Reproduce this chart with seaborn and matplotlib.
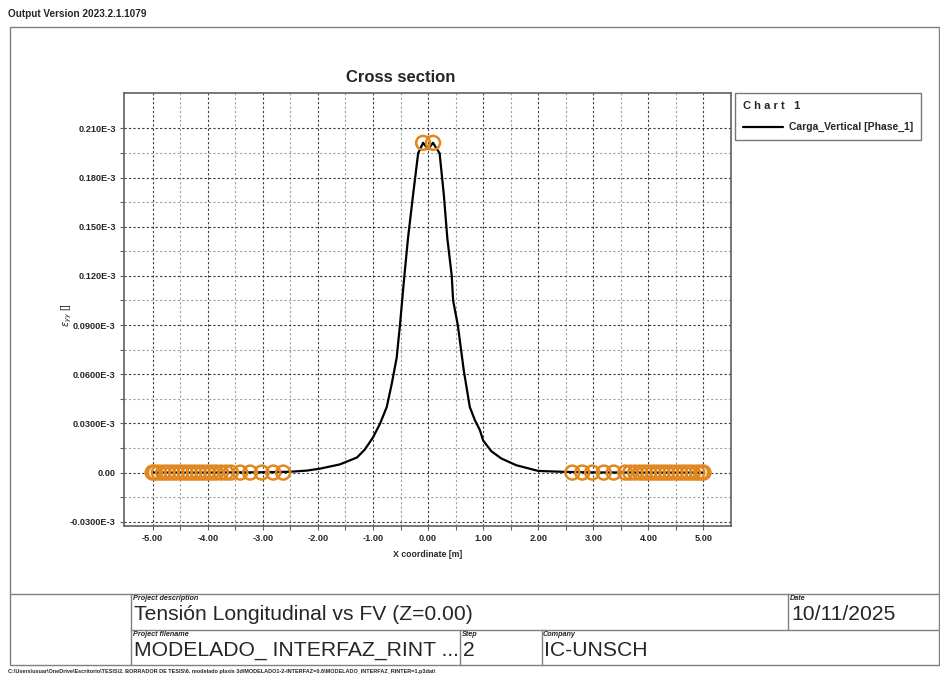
import numpy as np
import pandas as pd
import matplotlib
matplotlib.use("Agg")
import matplotlib.pyplot as plt
from matplotlib.patches import Rectangle
import seaborn as sns

# ---- data: strain along the cross section (values in 1E-3) ----
x_coord = [-5.00, -4.00, -3.00, -2.50, -2.20, -1.96, -1.60, -1.29, -1.15, -1.00,
           -0.87, -0.75, -0.66, -0.57, -0.51, -0.43, -0.364, -0.27, -0.18, -0.09,
           0.00, 0.09, 0.21, 0.285, 0.35, 0.43, 0.455, 0.54, 0.65, 0.758,
           0.85, 0.94, 1.00, 1.15, 1.33, 1.60, 1.84, 2.00, 2.50, 3.00, 4.00, 5.00]
strain_yy = [0.0, 0.0, 0.0002, 0.0005, 0.0012, 0.0024, 0.0050, 0.0092, 0.0140, 0.0214,
             0.0300, 0.0400, 0.0540, 0.0700, 0.0900, 0.1200, 0.1430, 0.1700, 0.1948, 0.2012,
             0.1975, 0.2012, 0.1948, 0.1700, 0.1430, 0.1200, 0.1050, 0.0900, 0.0620, 0.0400,
             0.0320, 0.0260, 0.0196, 0.0130, 0.0086, 0.0045, 0.0024, 0.0010, 0.0004, 0.0001, 0.0, 0.0]

# selected nodes (marked with circles)
node_x = [-5.00, -4.96, -4.89, -4.81, -4.73, -4.65, -4.57, -4.49, -4.41, -4.33,
          -4.25, -4.17, -4.09, -4.01, -3.93, -3.85, -3.76, -3.67, -3.58, -3.41,
          -3.23, -3.02, -2.81, -2.63,
          -0.09, 0.09,
          2.62, 2.80, 2.98, 3.19, 3.37, 3.58, 3.67, 3.76, 3.85, 3.93,
          4.01, 4.09, 4.17, 4.25, 4.33, 4.41, 4.49, 4.57, 4.65, 4.73,
          4.81, 4.89, 4.96, 5.00]
node_y = [0.0, 0.0, 0.0, 0.0, 0.0, 0.0, 0.0, 0.0, 0.0, 0.0,
          0.0, 0.0, 0.0, 0.0, 0.0, 0.0, 0.0, 0.0, 0.0, 0.0,
          0.0, 0.0, 0.0, 0.0,
          0.2012, 0.2012,
          0.0, 0.0, 0.0, 0.0, 0.0, 0.0, 0.0, 0.0, 0.0, 0.0,
          0.0, 0.0, 0.0, 0.0, 0.0, 0.0, 0.0, 0.0, 0.0, 0.0,
          0.0, 0.0, 0.0, 0.0]

x_ticks = [-5, -4, -3, -2, -1, 0, 1, 2, 3, 4, 5]
x_tick_labels = ["-5.00", "-4.00", "-3.00", "-2.00", "-1.00", "0.00",
                 "1.00", "2.00", "3.00", "4.00", "5.00"]
y_ticks = [-0.03, 0.0, 0.03, 0.06, 0.09, 0.12, 0.15, 0.18, 0.21]
y_tick_labels = ["-0.0300E-3", "0.00", "0.0300E-3", "0.0600E-3", "0.0900E-3",
                 "0.120E-3", "0.150E-3", "0.180E-3", "0.210E-3"]

series_name = "Carga_Vertical [Phase_1]"
path_text = ("C:\\Users\\usuar\\OneDrive\\Escritorio\\TESIS\\2. BORRADOR DE TESIS\\"
             "6. modelado plaxis 3d\\MODELADO1-2-INTERFAZ=0.6\\"
             "MODELADO_INTERFAZ_RINTER=1.p3dat\\")

sns.set_style("white")
plt.rcParams["font.family"] = ["Liberation Sans", "DejaVu Sans"]

W, H = 940, 677
fig = plt.figure(figsize=(W / 100, H / 100), dpi=100)

# page frame / title block drawn in pixel coordinates
bg = fig.add_axes([0, 0, 1, 1], zorder=0)
bg.set_xlim(0, W)
bg.set_ylim(H, 0)
bg.axis("off")
frame_c = "#808080"
bg.add_patch(Rectangle((9.5, 27), 929, 638, fill=False, ec=frame_c, lw=1))
for (x0, y0, x1, y1) in [(9.5, 594, 939, 594), (131, 629.5, 939, 629.5),
                         (131, 594, 131, 665), (788, 594, 788, 629.5),
                         (460, 629.5, 460, 665), (541.5, 629.5, 541.5, 665)]:
    bg.plot([x0, x1], [y0, y1], color=frame_c, lw=1)

bg.text(8, 14, "Output Version 2023.2.1.1079", fontsize=7.2, fontweight="bold",
        va="center", ha="left")
small = dict(fontsize=5.2, fontweight="bold", style="italic", va="center", ha="left")
big = dict(fontsize=15.2, va="center", ha="left")
bg.text(133, 598.5, "Project description", **small)
bg.text(134, 614, "Tensión Longitudinal vs FV (Z=0.00)", **big)
bg.text(790, 598.5, "Date", **small)
bg.text(791, 614, "10/11/2025", **big)
bg.text(133, 634, "Project filename", **small)
bg.text(134, 651, "MODELADO_ INTERFAZ_RINT ...", **big)
bg.text(462, 634, "Step", **small)
bg.text(463, 651, "2", **big)
bg.text(543, 634, "Company", **small)
bg.text(544, 651, "IC-UNSCH", **big)
bg.text(8, 671.5, path_text, fontsize=4.0, fontweight="bold", va="center", ha="left")

# ---- main chart ----
ax = fig.add_axes([124 / W, 1 - 526 / H, (731 - 124) / W, (526 - 93) / H], zorder=2)
df = pd.DataFrame({"x": x_coord, "eyy": strain_yy})
nodes = pd.DataFrame({"x": node_x, "eyy": node_y})

sns.lineplot(data=df, x="x", y="eyy", ax=ax, color="black", lw=1.6,
             label=series_name, sort=False, zorder=3)
sns.scatterplot(data=nodes, x="x", y="eyy", ax=ax, s=100, marker="o",
                facecolors="none", edgecolor="#E0871F", linewidth=1.8, zorder=4,
                legend=False)

ax.set_xlim(-5.52, 5.50)
ax.set_ylim(-0.0326, 0.2316)
ax.set_xticks(x_ticks)
ax.set_xticklabels(x_tick_labels)
ax.set_yticks(y_ticks)
ax.set_yticklabels(y_tick_labels)
ax.set_xticks(np.array(x_ticks[:-1]) + 0.5, minor=True)
ax.set_yticks(np.array(y_ticks[:-1]) + 0.015, minor=True)

ax.grid(which="major", color="#3a3a3a", linestyle=(0, (2, 2)), lw=0.8)
ax.grid(which="minor", color="#a0a0a0", linestyle=(0, (2, 2)), lw=0.8)
ax.set_axisbelow(True)
for sp in ax.spines.values():
    sp.set_color("#606060")
    sp.set_linewidth(1.2)
ax.tick_params(which="both", direction="out", length=3, width=0.8, color="#606060",
               pad=3, bottom=True, left=True)
for lab in ax.get_xticklabels() + ax.get_yticklabels():
    lab.set_fontsize(6.6)
    lab.set_fontweight("bold")

ax.set_xlabel("X coordinate [m]", fontsize=6.3, fontweight="bold", labelpad=5)
ax.set_ylabel("")
fig.text(67 / W, 1 - 315 / H, r"$\varepsilon_{yy}$ []", rotation=90, fontsize=7,
         ha="center", va="center")
fig.text(401 / W, 1 - 77 / H, "Cross section", fontsize=12, fontweight="bold",
         ha="center", va="center")

leg = ax.legend(loc="upper left", bbox_to_anchor=(735 / W, 1 - 93 / H),
                bbox_transform=fig.transFigure, frameon=True, fancybox=False,
                title="C h a r t   1", alignment="left", handlelength=3.9,
                handletextpad=0.5, borderpad=0.75, borderaxespad=0,
                labelspacing=1.1,
                prop={"size": 7.5, "weight": "bold"},
                title_fontproperties={"size": 8, "weight": "bold"})
leg.get_frame().set_edgecolor("#555555")
leg.get_frame().set_linewidth(1.0)

fig.savefig("out.png", dpi=100)
